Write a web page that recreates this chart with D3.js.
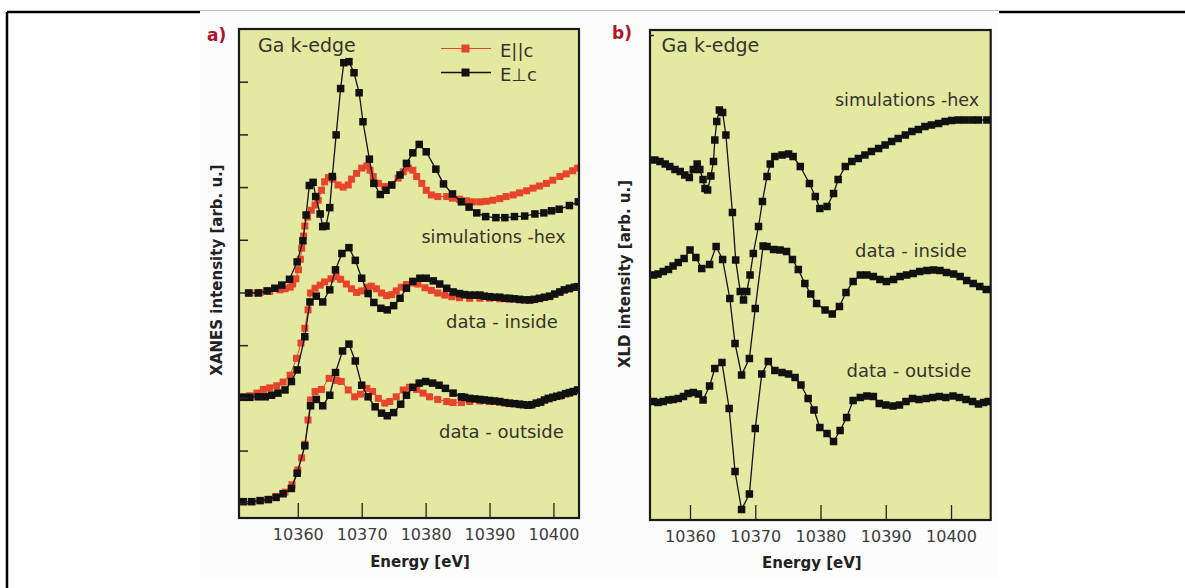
<!DOCTYPE html>
<html>
<head>
<meta charset="utf-8">
<title>Ga k-edge XANES and XLD</title>
<script src="https://cdn.jsdelivr.net/npm/d3@7"></script>
<style>
  body { margin: 0; background: #fff; }
  text { font-family: "DejaVu Sans", sans-serif; }
</style>
</head>
<body>
<div id="chart"></div>
<script>

// tick values
var energyTicks = [10360, 10370, 10380, 10390, 10400];
var xanesTicks = [0, 1, 2, 3, 4, 5, 6, 7, 8];
var xldTicks = [9.7];

// panel a) XANES, [energy eV, intensity arb. u.]
var simParA = [[10352.5,3.99],[10354.1,4.00],[10355.6,4.02],[10357.2,4.05],[10358.0,4.07],[10358.8,4.10],[10359.2,4.16],[10359.7,4.26],[10360.1,4.43],[10360.4,4.63],[10360.6,4.84],[10360.9,5.07],[10361.1,5.26],[10361.5,5.43],[10362.1,5.56],[10362.7,5.66],[10363.2,5.75],[10363.7,5.94],[10364.2,6.10],[10364.8,6.18],[10365.5,6.15],[10366.3,6.04],[10367.1,6.00],[10367.9,6.04],[10368.4,6.15],[10369.2,6.26],[10370.0,6.36],[10370.8,6.40],[10371.3,6.32],[10371.8,6.20],[10372.6,6.07],[10373.6,6.01],[10374.7,6.04],[10375.7,6.17],[10376.5,6.29],[10377.3,6.36],[10378.0,6.32],[10378.6,6.20],[10379.4,6.07],[10380.1,5.94],[10380.9,5.85],[10381.9,5.82],[10383.3,5.82],[10384.2,5.79],[10385.3,5.77],[10386.4,5.74],[10387.4,5.72],[10388.5,5.72],[10389.5,5.73],[10390.5,5.75],[10391.6,5.78],[10392.6,5.82],[10393.7,5.85],[10394.7,5.89],[10395.8,5.93],[10396.8,5.98],[10397.8,6.02],[10398.9,6.07],[10399.9,6.13],[10401.0,6.20],[10402.0,6.25],[10403.0,6.31],[10403.8,6.36]];
var simPerpA = [[10352.3,3.99],[10353.8,3.99],[10355.2,4.03],[10356.4,4.08],[10357.5,4.14],[10358.7,4.25],[10359.9,4.58],[10360.8,4.98],[10361.3,5.47],[10361.8,6.03],[10362.4,6.09],[10362.8,5.82],[10363.5,5.49],[10363.9,5.25],[10364.4,5.26],[10365.0,5.61],[10365.4,6.20],[10366.0,6.99],[10366.7,7.87],[10367.2,8.36],[10368.0,8.38],[10368.8,8.17],[10369.6,7.79],[10370.2,7.24],[10371.2,6.53],[10371.9,6.07],[10372.9,5.86],[10373.8,5.94],[10374.7,6.04],[10376.0,6.23],[10377.0,6.45],[10378.0,6.65],[10379.0,6.81],[10380.1,6.67],[10381.6,6.34],[10382.8,6.06],[10384.2,5.87],[10385.6,5.72],[10386.8,5.62],[10388.0,5.51],[10389.4,5.44],[10391.0,5.42],[10392.4,5.42],[10393.9,5.44],[10395.5,5.45],[10397.1,5.49],[10398.5,5.51],[10399.7,5.55],[10400.9,5.58],[10402.5,5.65],[10403.9,5.72]];
var insideParA = [[10351.5,2.02],[10352.5,2.04],[10353.6,2.09],[10354.6,2.16],[10355.6,2.19],[10356.7,2.23],[10357.7,2.30],[10358.8,2.43],[10359.8,2.75],[10360.5,3.04],[10361.1,3.32],[10361.6,3.67],[10362.0,3.99],[10362.7,4.08],[10363.5,4.14],[10364.2,4.20],[10365.2,4.26],[10366.0,4.30],[10366.7,4.25],[10367.6,4.16],[10368.4,4.07],[10369.2,4.00],[10370.0,4.03],[10370.8,4.10],[10371.5,4.12],[10372.3,4.07],[10373.1,3.99],[10373.9,3.94],[10374.7,3.96],[10375.4,4.03],[10376.2,4.10],[10377.0,4.15],[10378.0,4.18],[10378.8,4.16],[10379.9,4.09],[10380.9,4.04],[10381.9,3.99],[10383.0,3.95],[10384.1,3.92],[10385.3,3.90],[10386.9,3.89],[10388.5,3.89],[10390.0,3.89],[10391.6,3.88],[10393.1,3.87],[10394.7,3.86],[10396.3,3.85],[10397.8,3.88],[10399.4,3.92],[10401.0,4.00],[10402.5,4.06],[10403.7,4.10]];
var insidePerpA = [[10351.5,2.01],[10352.5,2.01],[10353.8,2.02],[10354.9,2.02],[10355.9,2.05],[10356.9,2.09],[10358.0,2.15],[10359.0,2.31],[10359.9,2.53],[10361.1,3.16],[10361.9,3.82],[10362.9,3.93],[10363.9,3.82],[10365.0,4.05],[10365.9,4.43],[10366.9,4.74],[10368.0,4.85],[10369.0,4.61],[10370.0,4.27],[10371.0,3.98],[10371.9,3.81],[10373.0,3.70],[10374.0,3.67],[10375.0,3.75],[10376.0,3.89],[10377.0,4.08],[10378.0,4.21],[10379.1,4.27],[10380.1,4.27],[10381.2,4.22],[10382.2,4.16],[10383.3,4.08],[10384.3,4.01],[10385.3,3.98],[10386.1,3.96],[10386.9,3.95],[10387.7,3.95],[10388.5,3.95],[10389.2,3.93],[10390.0,3.92],[10390.8,3.91],[10391.6,3.91],[10392.4,3.89],[10393.1,3.89],[10393.9,3.88],[10394.7,3.87],[10395.5,3.86],[10396.3,3.86],[10397.0,3.87],[10397.8,3.89],[10398.6,3.91],[10399.4,3.93],[10400.2,3.97],[10401.0,4.01],[10401.7,4.05],[10402.5,4.08],[10403.3,4.10],[10403.8,4.11]];
var outsideParA = [[10351.4,0.03],[10352.8,0.03],[10354.1,0.05],[10355.3,0.07],[10356.6,0.13],[10358.0,0.21],[10359.1,0.35],[10360.0,0.63],[10360.6,0.86],[10361.1,1.12],[10361.6,1.58],[10362.0,1.96],[10362.7,2.12],[10363.7,2.16],[10364.9,2.37],[10366.1,2.33],[10366.8,2.31],[10367.9,2.15],[10368.9,2.02],[10369.8,2.07],[10370.8,2.18],[10371.7,2.12],[10372.6,1.99],[10373.6,1.90],[10374.4,1.93],[10375.4,2.02],[10376.5,2.15],[10377.5,2.20],[10378.6,2.16],[10379.6,2.09],[10380.6,2.02],[10381.9,1.97],[10383.3,1.93],[10384.3,1.91],[10385.6,1.91],[10386.9,1.93],[10388.5,1.94],[10390.0,1.93],[10391.6,1.92],[10393.1,1.89],[10394.7,1.87],[10396.3,1.86],[10397.8,1.91],[10399.4,1.98],[10401.0,2.03],[10402.5,2.09],[10403.7,2.14]];
var outsidePerpA = [[10351.5,0.03],[10352.8,0.03],[10354.1,0.05],[10355.4,0.07],[10356.6,0.11],[10357.7,0.18],[10359.0,0.28],[10359.9,0.57],[10361.1,1.09],[10362.0,1.85],[10362.9,1.97],[10363.9,1.85],[10365.0,2.05],[10365.9,2.48],[10367.0,2.89],[10368.0,3.02],[10369.0,2.70],[10370.0,2.24],[10371.0,2.02],[10372.1,1.83],[10373.1,1.71],[10374.0,1.66],[10375.0,1.72],[10376.1,1.88],[10377.0,2.05],[10378.0,2.20],[10379.0,2.28],[10380.0,2.31],[10381.1,2.28],[10382.1,2.24],[10383.1,2.18],[10384.3,2.09],[10385.6,2.02],[10386.1,2.01],[10386.9,1.99],[10387.7,1.98],[10388.5,1.97],[10389.2,1.96],[10390.0,1.95],[10390.8,1.94],[10391.6,1.93],[10392.4,1.91],[10393.1,1.90],[10393.9,1.89],[10394.7,1.88],[10395.3,1.87],[10396.0,1.86],[10396.6,1.87],[10397.3,1.90],[10398.0,1.92],[10398.6,1.96],[10399.2,1.99],[10399.9,2.01],[10400.5,2.03],[10401.2,2.05],[10401.9,2.08],[10402.5,2.10],[10403.1,2.12],[10403.8,2.15]];

// panel b) XLD, [energy eV, intensity arb. u.]
var simB = [[10354.6,7.20],[10355.4,7.17],[10356.2,7.12],[10356.9,7.07],[10357.7,7.01],[10358.5,6.97],[10359.2,6.90],[10359.9,6.85],[10360.5,7.01],[10361.1,7.12],[10361.5,7.01],[10362.0,6.81],[10362.3,6.63],[10362.7,6.60],[10363.2,6.88],[10363.6,7.17],[10363.8,7.60],[10364.1,7.97],[10364.5,8.20],[10365.0,8.15],[10365.5,7.70],[10366.5,6.15],[10367.0,5.20],[10367.7,4.57],[10368.2,4.40],[10368.7,4.57],[10369.2,4.90],[10369.7,5.33],[10370.5,5.87],[10371.1,6.37],[10371.8,6.87],[10372.3,7.12],[10373.0,7.27],[10374.1,7.30],[10375.1,7.32],[10375.8,7.27],[10376.9,7.07],[10378.3,6.73],[10379.2,6.47],[10379.9,6.23],[10381.0,6.27],[10382.0,6.53],[10382.7,6.81],[10383.8,7.07],[10384.8,7.17],[10385.8,7.23],[10386.8,7.30],[10387.8,7.37],[10388.9,7.43],[10389.9,7.50],[10390.9,7.57],[10391.9,7.63],[10393.0,7.70],[10394.0,7.77],[10395.0,7.81],[10396.0,7.87],[10397.0,7.90],[10398.1,7.93],[10399.1,7.97],[10400.1,7.99],[10401.1,8.00],[10402.1,8.00],[10403.2,8.00],[10404.2,8.00],[10405.5,8.00]];
var insideB = [[10354.4,4.90],[10355.1,4.92],[10355.9,4.97],[10356.7,5.01],[10357.4,5.08],[10358.2,5.15],[10359.1,5.23],[10360.0,5.40],[10360.9,5.25],[10361.8,5.03],[10363.0,5.11],[10364.0,5.47],[10365.0,5.21],[10366.1,4.43],[10366.9,3.53],[10367.9,2.90],[10369.1,3.23],[10370.0,4.23],[10371.2,5.48],[10371.8,5.47],[10372.8,5.41],[10373.8,5.40],[10374.8,5.37],[10375.7,5.21],[10376.6,5.01],[10377.6,4.73],[10378.5,4.52],[10379.4,4.33],[10380.7,4.20],[10381.8,4.12],[10382.9,4.27],[10383.9,4.55],[10385.0,4.77],[10386.1,4.90],[10387.1,4.90],[10388.1,4.87],[10389.1,4.81],[10390.1,4.77],[10391.2,4.81],[10392.2,4.87],[10393.2,4.90],[10394.2,4.93],[10395.2,4.97],[10396.3,4.99],[10397.3,5.00],[10398.3,4.99],[10399.3,4.95],[10400.4,4.92],[10401.4,4.87],[10402.4,4.79],[10403.4,4.73],[10404.4,4.67],[10405.4,4.61]];
var outsideB = [[10354.4,2.37],[10355.1,2.35],[10355.9,2.37],[10356.7,2.40],[10357.4,2.41],[10358.2,2.43],[10359.0,2.47],[10359.7,2.53],[10360.5,2.55],[10361.3,2.52],[10362.0,2.40],[10363.0,2.68],[10363.8,3.03],[10364.9,3.15],[10366.0,2.23],[10366.9,0.97],[10367.9,0.21],[10369.1,0.52],[10370.0,1.83],[10371.0,2.92],[10372.0,3.17],[10373.0,2.99],[10374.1,2.95],[10375.1,2.92],[10376.1,2.85],[10377.0,2.70],[10378.1,2.43],[10379.0,2.20],[10379.9,1.85],[10381.0,1.73],[10382.0,1.57],[10383.0,1.79],[10384.0,2.05],[10385.0,2.39],[10386.1,2.45],[10387.1,2.48],[10388.1,2.47],[10389.0,2.33],[10390.0,2.30],[10391.1,2.28],[10392.1,2.30],[10393.1,2.37],[10394.1,2.43],[10395.1,2.41],[10396.2,2.43],[10397.2,2.45],[10398.2,2.47],[10399.2,2.45],[10400.3,2.48],[10401.3,2.45],[10402.3,2.41],[10403.3,2.37],[10404.2,2.32],[10405.0,2.35],[10405.7,2.37]];

var red = "#e8432b";
var black = "#111";
var textColor = "#34342c";

var svg = d3.select("#chart")
    .append("svg")
    .attr("width", 1185)
    .attr("height", 588);

// page border (top and left only) and the pasted figure area
svg.append("line").attr("x1", 7).attr("x2", 1185).attr("y1", 12).attr("y2", 12)
    .attr("stroke", "#000").attr("stroke-width", 2.5);
svg.append("line").attr("x1", 7).attr("x2", 7).attr("y1", 12).attr("y2", 588)
    .attr("stroke", "#000").attr("stroke-width", 2.5);
svg.append("rect").attr("x", 200).attr("y", 11).attr("width", 799).attr("height", 566)
    .attr("fill", "#fcfcfc");

function drawPanel(p) {
    var x = d3.scaleLinear().domain(p.xDomain).range([p.left, p.right]);
    var y = d3.scaleLinear().domain(p.yDomain).range([p.bottom, p.top]);

    svg.append("rect")
        .attr("x", p.left).attr("y", p.top)
        .attr("width", p.right - p.left).attr("height", p.bottom - p.top)
        .attr("fill", "#e4e9a1");

    svg.append("clipPath").attr("id", p.id)
        .append("rect")
        .attr("x", p.left).attr("y", p.top)
        .attr("width", p.right - p.left).attr("height", p.bottom - p.top);

    var plot = svg.append("g").attr("clip-path", "url(#" + p.id + ")");

    // in-plot annotations
    p.notes.forEach(function(n) {
        plot.append("text")
            .attr("x", n.x).attr("y", n.y)
            .style("font-size", n.size + "px")
            .style("fill", textColor)
            .text(n.text);
    });

    var line = d3.line()
        .x(function(d) { return x(d[0]); })
        .y(function(d) { return y(d[1]); });

    p.series.forEach(function(s) {
        plot.append("path")
            .datum(s.data)
            .attr("d", line)
            .attr("fill", "none")
            .attr("stroke", s.color)
            .attr("stroke-width", s.color === red ? 1 : 1.3);

        plot.selectAll(null)
            .data(s.data)
            .enter()
            .append("rect")
            .attr("x", function(d) { return x(d[0]) - s.size / 2; })
            .attr("y", function(d) { return y(d[1]) - s.size / 2; })
            .attr("width", s.size)
            .attr("height", s.size)
            .attr("fill", s.color);
    });

    // x axis, inward ticks
    var xAxis = svg.append("g")
        .attr("transform", "translate(0," + p.bottom + ")")
        .call(d3.axisBottom(x).tickValues(energyTicks).tickFormat(d3.format("d"))
            .tickSizeInner(-15).tickSizeOuter(0).tickPadding(p.xPad));
    xAxis.select(".domain").remove();
    xAxis.selectAll("line").attr("stroke", "#222").attr("stroke-width", 1.3);
    xAxis.selectAll("text")
        .style("font-family", "DejaVu Sans")
        .style("font-size", "16px")
        .style("fill", "#3d3d3d");

    // y axis, unlabeled inward ticks
    var yAxis = svg.append("g")
        .attr("transform", "translate(" + p.left + ",0)")
        .call(d3.axisLeft(y).tickValues(p.yTicks).tickFormat("")
            .tickSizeInner(-p.yTickLen).tickSizeOuter(0));
    yAxis.select(".domain").remove();
    yAxis.selectAll("line").attr("stroke", "#222").attr("stroke-width", 1.5);

    // frame
    svg.append("rect")
        .attr("x", p.left).attr("y", p.top)
        .attr("width", p.right - p.left).attr("height", p.bottom - p.top)
        .attr("fill", "none")
        .attr("stroke", "#1a1a1a")
        .attr("stroke-width", 2.2);

    svg.append("text")
        .attr("x", (p.left + p.right) / 2 + p.xTitleShift)
        .attr("y", p.xTitleY)
        .style("text-anchor", "middle")
        .style("font-size", "15px")
        .style("font-weight", "bold")
        .style("fill", "#222")
        .text("Energy [eV]");

    svg.append("text")
        .attr("transform", "translate(" + p.yTitleX + "," + p.yTitleY + ") rotate(-90)")
        .attr("dy", "0.35em")
        .style("text-anchor", "middle")
        .style("font-size", "15px")
        .style("font-weight", "bold")
        .style("fill", "#222")
        .text(p.yTitle);

    svg.append("text")
        .attr("x", p.tagX).attr("y", p.tagY)
        .style("font-size", "17px")
        .style("font-weight", "bold")
        .style("fill", "#b3122c")
        .text(p.tag);
}

drawPanel({
    id: "clipA", tag: "a)", tagX: 207, tagY: 41,
    left: 239, right: 579, top: 29, bottom: 518,
    xDomain: [10350.8, 10404.0], yDomain: [-0.28, 9.0],
    yTicks: xanesTicks, yTickLen: 9, xPad: 10.5,
    xTitleShift: 11, xTitleY: 566.5,
    yTitle: "XANES intensity [arb. u.]", yTitleX: 216.5, yTitleY: 270,
    notes: [
        { text: "Ga k-edge", x: 258, y: 52, size: 19 },
        { text: "simulations -hex", x: 421.5, y: 242.5, size: 17.5 },
        { text: "data - inside", x: 446, y: 328, size: 18 },
        { text: "data - outside", x: 439, y: 438, size: 18 }
    ],
    series: [
        { data: simParA, color: red, size: 7 },
        { data: insideParA, color: red, size: 7 },
        { data: outsideParA, color: red, size: 7 },
        { data: simPerpA, color: black, size: 7.5 },
        { data: insidePerpA, color: black, size: 7.5 },
        { data: outsidePerpA, color: black, size: 7.5 }
    ]
});

drawPanel({
    id: "clipB", tag: "b)", tagX: 612, tagY: 39,
    left: 650, right: 990.7, top: 30, bottom: 520,
    xDomain: [10353.87, 10406.08], yDomain: [0, 9.8],
    yTicks: xldTicks, yTickLen: 4, xPad: 11,
    xTitleShift: -8.5, xTitleY: 568,
    yTitle: "XLD intensity [arb. u.]", yTitleX: 625, yTitleY: 274,
    notes: [
        { text: "Ga k-edge", x: 661.5, y: 51.5, size: 19 },
        { text: "simulations -hex", x: 835, y: 106, size: 17.5 },
        { text: "data - inside", x: 855, y: 257, size: 18 },
        { text: "data - outside", x: 846.5, y: 377, size: 18 }
    ],
    series: [
        { data: simB, color: black, size: 7.5 },
        { data: insideB, color: black, size: 7.5 },
        { data: outsideB, color: black, size: 7.5 }
    ]
});

// legend for panel a
var legendItems = [
    { label: "E||c", color: red, size: 8, y: 48.5 },
    { label: "E\u22A5c", color: black, size: 8, y: 72.5 }
];
var legend = svg.append("g");
legendItems.forEach(function(d) {
    legend.append("line")
        .attr("x1", 441).attr("x2", 491).attr("y1", d.y).attr("y2", d.y)
        .attr("stroke", d.color).attr("stroke-width", d.color === red ? 1.2 : 1.6);
    legend.append("rect")
        .attr("x", 465.5 - d.size / 2).attr("y", d.y - d.size / 2)
        .attr("width", d.size).attr("height", d.size)
        .attr("fill", d.color);
    legend.append("text")
        .attr("x", 500).attr("y", d.y + 8)
        .style("font-size", "18px")
        .style("fill", textColor)
        .text(d.label);
});

</script>
</body>
</html>
